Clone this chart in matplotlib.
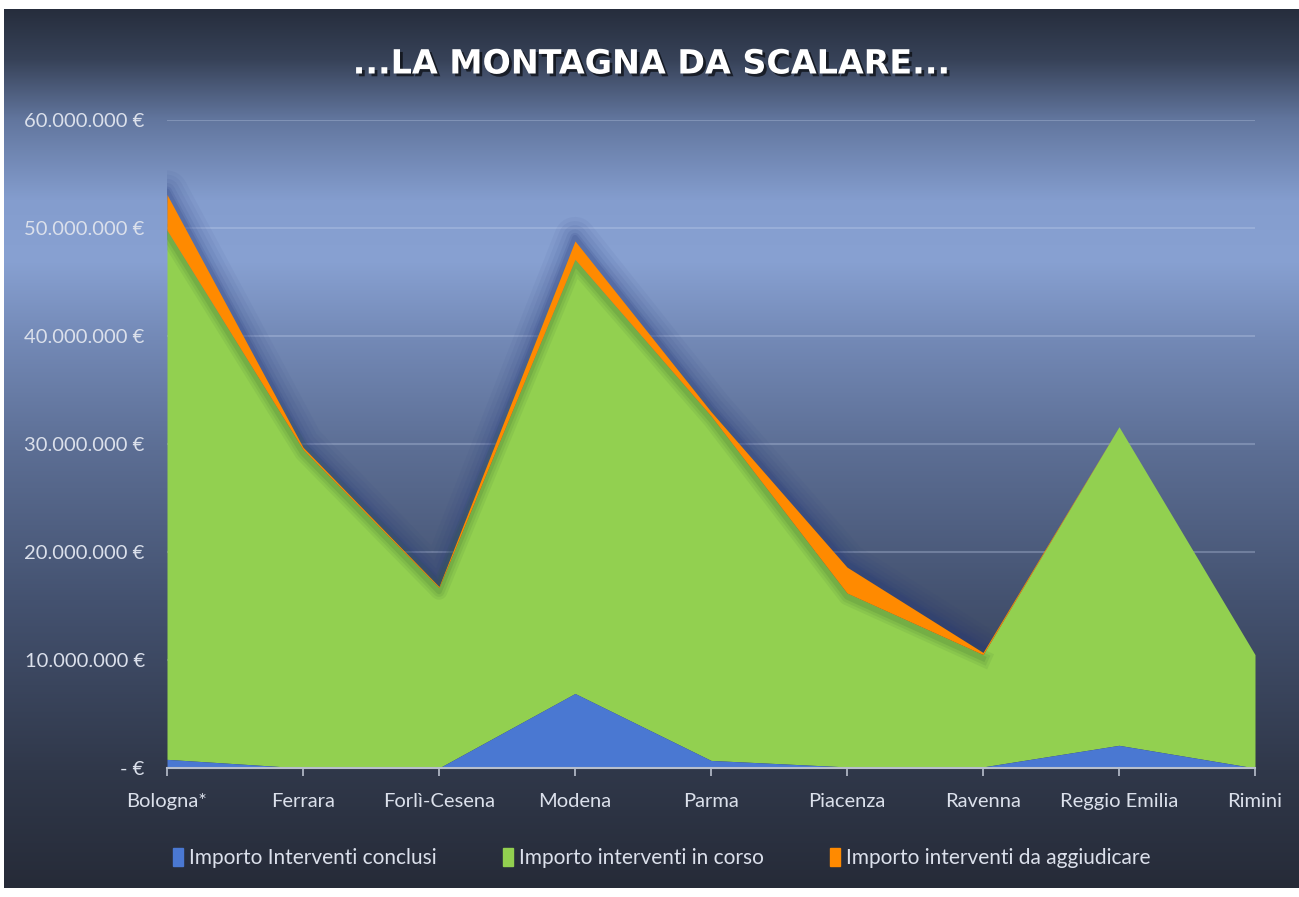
import numpy as np
import matplotlib
matplotlib.use("Agg")
import matplotlib.pyplot as plt
import matplotlib.patheffects as pe
from matplotlib.ticker import FuncFormatter
from matplotlib.patches import Rectangle

# ---- data ----
categories = ["Bologna*", "Ferrara", "Forlì-Cesena", "Modena", "Parma",
              "Piacenza", "Ravenna", "Reggio Emilia", "Rimini"]
conclusi = [0.8e6, 0.0, 0.0, 6.9e6, 0.7e6, 0.1e6, 0.1e6, 2.1e6, 0.0]
in_corso = [49.0e6, 29.5e6, 16.7e6, 40.2e6, 31.9e6, 16.1e6, 10.4e6, 29.5e6, 10.5e6]
da_aggiudicare = [3.3e6, 0.2e6, 0.1e6, 1.7e6, 0.4e6, 2.4e6, 0.2e6, 0.0, 0.0]
series_names = ["Importo Interventi conclusi", "Importo interventi in corso",
                "Importo interventi da aggiudicare"]
yticks = [0, 10e6, 20e6, 30e6, 40e6, 50e6, 60e6]
title = "...LA MONTAGNA DA SCALARE..."

W, H = 1299, 897
fig = plt.figure(figsize=(W / 100, H / 100), dpi=100)
fig.patch.set_facecolor("white")

FONT = ["Lato", "DejaVu Sans"]
TXT = (0.86, 0.88, 0.92)

# ---- gradient background panel ----
px0, py0, px1, py1 = 4, 9, 1299, 888
bg = fig.add_axes([px0 / W, 1 - py1 / H, (px1 - px0) / W, (py1 - py0) / H])
bg.set_axis_off()
stops_y = [9, 60, 120, 200, 260, 340, 450, 600, 770, 888]
stops_c = [(38, 45, 60), (55, 66, 88), (98, 118, 158), (132, 157, 206), (136, 161, 210),
           (115, 137, 182), (92, 110, 148), (68, 82, 112), (48, 56, 74), (38, 43, 56)]
ys = np.arange(py0, py1)
grad = np.zeros((len(ys), 1, 3))
for k in range(3):
    grad[:, 0, k] = np.interp(ys, stops_y, [c[k] for c in stops_c]) / 255.0
bg.imshow(grad, aspect="auto", extent=[0, 1, 0, 1], origin="upper")
bg.set_xlim(0, 1)
bg.set_ylim(0, 1)

# ---- main axes ----
left, right, top, bottom = 167, 1255, 120, 768
ax = fig.add_axes([left / W, 1 - bottom / H, (right - left) / W, (bottom - top) / H])
ax.set_facecolor("none")
x = np.arange(len(categories))
c1 = np.array(conclusi)
c2 = np.array(in_corso)
c3 = np.array(da_aggiudicare)
s1 = c1
s2 = c1 + c2
s3 = s2 + c3

# gridlines
for v in yticks[1:]:
    ax.axhline(v, color=(0.78, 0.83, 0.93), alpha=0.3, lw=1.5, zorder=0)

# glow/shadow around the orange series (Bologna -> Ravenna)
n_sh = 7
for lw, a in [(30, 0.05), (24, 0.06), (18, 0.07), (12, 0.09), (7, 0.12), (4, 0.15)]:
    ax.plot(x[:n_sh], s3[:n_sh] + 0.3e6, color=(0.14, 0.22, 0.48), lw=lw, alpha=a,
            solid_joinstyle="round", solid_capstyle="round", zorder=1)

ax.fill_between(x, s1, s2, color="#92d050", lw=0, zorder=2)
# dark green shade under the orange band
for lw, a in [(12, 0.10), (8, 0.12), (4, 0.18)]:
    ax.plot(x[:n_sh], s2[:n_sh] - 0.35e6, color=(0.25, 0.45, 0.2), lw=lw, alpha=a,
            solid_joinstyle="round", zorder=2.5)
ax.fill_between(x, s2, s3, color="#ff8a00", lw=0, zorder=4)
ax.fill_between(x, 0, s1, color="#4a78d2", lw=0, zorder=3.5)

ax.set_xlim(x[0], x[-1])
ax.set_ylim(0, 60e6)
ax.set_yticks(yticks)


def fmt(v, pos):
    if v == 0:
        return "- €"
    return f"{int(round(v)):,}".replace(",", ".") + " €"


ax.yaxis.set_major_formatter(FuncFormatter(fmt))
ax.set_xticks(x)
ax.set_xticklabels(categories)
for s in ["top", "right", "left"]:
    ax.spines[s].set_visible(False)
ax.spines["bottom"].set_color((0.72, 0.75, 0.8))
ax.spines["bottom"].set_linewidth(1.5)
ax.spines["bottom"].set_zorder(5)
ax.tick_params(axis="y", length=0, pad=16)
ax.tick_params(axis="x", length=6, width=1.2, color=(0.72, 0.75, 0.8), pad=12)
for lab in ax.get_yticklabels():
    lab.set_fontfamily(FONT)
    lab.set_fontsize(14.5)
    lab.set_color(TXT)
for lab in ax.get_xticklabels():
    lab.set_fontfamily(FONT)
    lab.set_fontsize(14.5)
    lab.set_color(TXT)

# ---- title ----
fig.text(652 / W, 1 - 64 / H, title, ha="center", va="center", fontsize=24,
         fontweight="bold", color="white",
         path_effects=[pe.withSimplePatchShadow(offset=(2, -2), shadow_rgbFace="k", alpha=0.6)])

# ---- legend ----
handles = [Rectangle((0, 0), 1, 1, color=c) for c in ["#4a78d2", "#92d050", "#ff8a00"]]
leg = fig.legend(handles, series_names, loc="center", bbox_to_anchor=(662 / W, 1 - 858 / H),
                 ncol=3, frameon=False, handlelength=0.45, handleheight=1.0,
                 handletextpad=0.3, columnspacing=3.2,
                 prop={"family": FONT, "size": 15})
for t in leg.get_texts():
    t.set_color(TXT)

fig.savefig("out.png", dpi=100, facecolor=fig.get_facecolor())
